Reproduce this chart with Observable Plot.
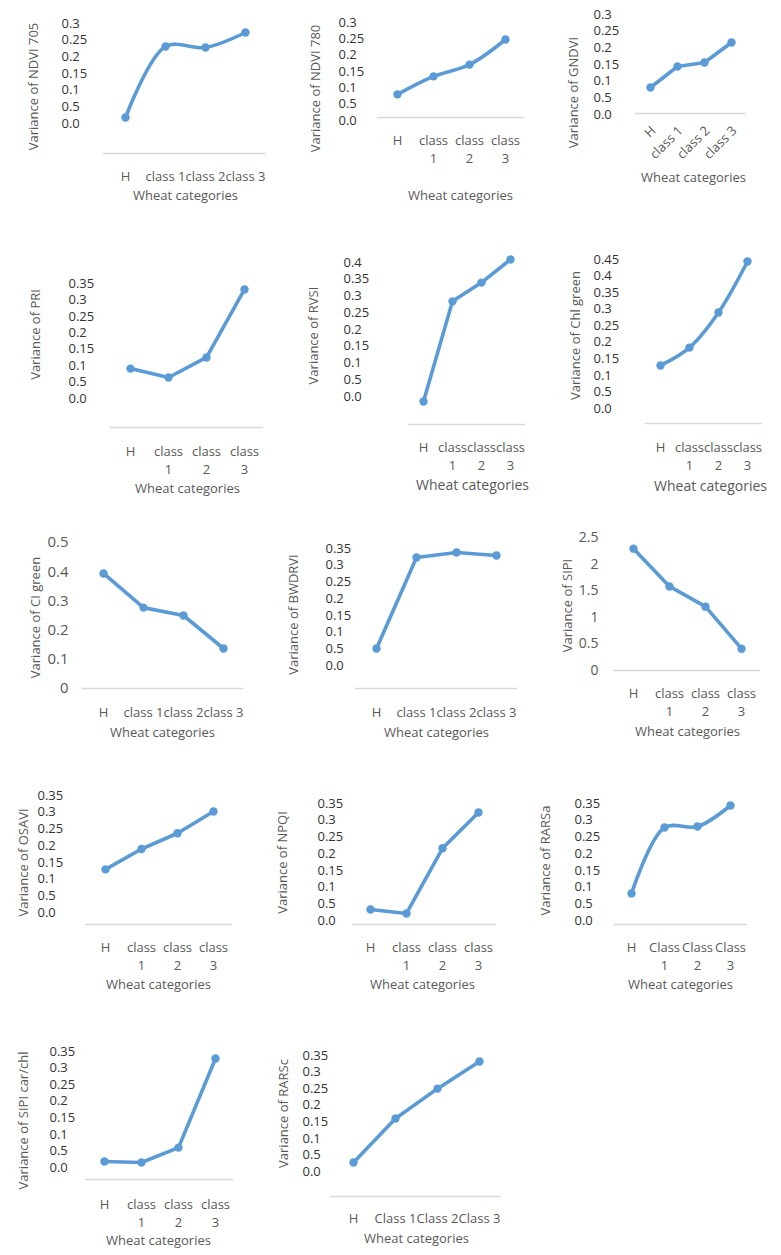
<!DOCTYPE html>
<html><head><meta charset="utf-8">
<script src="https://cdn.jsdelivr.net/npm/d3@7"></script>
<script src="https://cdn.jsdelivr.net/npm/@observablehq/plot@0.6"></script>
<style>
body{margin:0;background:#fff;}
#fig{position:relative;width:781px;height:1255px;background:#fff;overflow:hidden;font-family:"Open Sans",sans-serif;}
#fig svg{position:absolute;overflow:visible;}
</style></head><body><div id="fig"></div>
<script>
// Categories and tick labels
const categories = ["H", "class 1", "class 2", "class 3"];
const labelsInline = ["H", "class 1", "class 2", "class 3"];
const labelsWrapped = ["H", "class\n1", "class\n2", "class\n3"];
const labelsCapWrapped = ["H", "Class\n1", "Class\n2", "Class\n3"];
const labelsCapInline = ["H", "Class 1", "Class 2", "Class 3"];

// Series values (in the units of the printed tick labels)
const ndvi705 = [0.018, 0.231, 0.228, 0.273];
const ndvi780 = [0.080, 0.135, 0.171, 0.248];
const gndvi = [0.081, 0.144, 0.156, 0.216];
const pri = [0.091, 0.064, 0.125, 0.332];
const rvsi = [-0.015, 0.284, 0.340, 0.409];
const chlGreen = [0.130, 0.184, 0.290, 0.444];
const ciGreen = [0.394, 0.277, 0.250, 0.137];
const bwdrvi = [0.051, 0.323, 0.338, 0.329];
const sipi = [2.29, 1.58, 1.20, 0.41];
const osavi = [0.129, 0.190, 0.237, 0.302];
const npqi = [0.033, 0.021, 0.216, 0.323];
const rarsa = [0.081, 0.278, 0.281, 0.344];
const sipiCarChl = [0.018, 0.015, 0.060, 0.329];
const rarsc = [0.027, 0.160, 0.250, 0.332];

// Y tick values and their printed labels
const ticks030 = [0, 0.05, 0.1, 0.15, 0.2, 0.25, 0.3];
const tickLabels030 = ["0.0", "0.5", "0.1", "0.15", "0.2", "0.25", "0.3"];
const ticks035 = [0, 0.05, 0.1, 0.15, 0.2, 0.25, 0.3, 0.35];
const tickLabels035 = ["0.0", "0.5", "0.1", "0.15", "0.2", "0.25", "0.3", "0.35"];
const ticks040 = [0, 0.05, 0.1, 0.15, 0.2, 0.25, 0.3, 0.35, 0.4];
const tickLabels040 = ["0.0", "0.5", "0.1", "0.15", "0.2", "0.25", "0.3", "0.35", "0.4"];
const ticks045 = [0, 0.05, 0.1, 0.15, 0.2, 0.25, 0.3, 0.35, 0.4, 0.45];
const tickLabels045 = ["0.0", "0.5", "0.1", "0.15", "0.2", "0.25", "0.3", "0.35", "0.4", "0.45"];
const ticksCI = [0, 0.1, 0.2, 0.3, 0.4, 0.5];
const tickLabelsCI = ["0", "0.1", "0.2", "0.3", "0.4", "0.5"];
const ticksSIPI = [0, 0.5, 1, 1.5, 2, 2.5];
const tickLabelsSIPI = ["0", "0.5", "1", "1.5", "2", "2.5"];

const xTitle = "Wheat categories";

// Panel definitions with layout (page pixel positions)
const panels = [
  {title: "Variance of NDVI 705", values: ndvi705, labels: labelsInline, ticks: ticks030, tickLabels: tickLabels030, curve: "catmull-rom",
   L: {titleX: 33, titleY: 86, tickX: 61, tickAnchor: "start", y0: 123, yTop: 23, yBase: 153, xL: 103, xR: 266, labY: 172, xtX: 185, xtY: 195}},
  {title: "Variance of NDVI 780", values: ndvi780, labels: labelsWrapped, ticks: ticks030, tickLabels: tickLabels030, curve: "catmull-rom",
   L: {titleX: 315, titleY: 88, tickX: 338, tickAnchor: "start", y0: 120, yTop: 22, yBase: 117, xL: 377, xR: 524, labY: 136, xtX: 460, xtY: 195}},
  {title: "Variance of GNDVI", values: gndvi, labels: labelsInline, ticks: ticks030, tickLabels: tickLabels030, curve: "linear", rotateLabels: true,
   L: {titleX: 573, titleY: 92, tickX: 593, tickAnchor: "start", y0: 114, yTop: 14, yBase: 113, xL: 635, xR: 746, labY: 130, xtX: 693, xtY: 177}},
  {title: "Variance of PRI", values: pri, labels: labelsWrapped, ticks: ticks035, tickLabels: tickLabels035, curve: "linear",
   L: {titleX: 35, titleY: 334, tickX: 68, tickAnchor: "start", y0: 398, yTop: 283, yBase: 427, xL: 110, xR: 263, labY: 447, xtX: 187, xtY: 488}},
  {title: "Variance of RVSI", values: rvsi, labels: labelsWrapped, ticks: ticks040, tickLabels: tickLabels040, curve: "linear", xtFs: 14,
   L: {titleX: 313, titleY: 335, tickX: 343, tickAnchor: "start", y0: 396, yTop: 262, yBase: 424, xL: 408, xR: 525, labY: 443, xtX: 472, xtY: 485}},
  {title: "Variance of Chl green", values: chlGreen, labels: labelsWrapped, ticks: ticks045, tickLabels: tickLabels045, curve: "catmull-rom", xtFs: 14,
   L: {titleX: 575, titleY: 335, tickX: 593, tickAnchor: "start", y0: 408, yTop: 259, yBase: 423, xL: 645, xR: 762, labY: 443, xtX: 710, xtY: 486}},
  {title: "Variance of CI green", values: ciGreen, labels: labelsInline, ticks: ticksCI, tickLabels: tickLabelsCI, curve: "linear", tickFs: 15, tickFill: "#595959",
   L: {titleX: 35, titleY: 617, tickX: 68, tickAnchor: "end", y0: 688, yTop: 542, yBase: 688, xL: 82, xR: 243, labY: 708, xtX: 162, xtY: 732}},
  {title: "Variance of BWDRVI", values: bwdrvi, labels: labelsInline, ticks: ticks035, tickLabels: tickLabels035, curve: "linear",
   L: {titleX: 293, titleY: 614, tickX: 325, tickAnchor: "start", y0: 665, yTop: 548, yBase: 688, xL: 355, xR: 517, labY: 708, xtX: 436, xtY: 732}},
  {title: "Variance of SIPI", values: sipi, labels: labelsWrapped, ticks: ticksSIPI, tickLabels: tickLabelsSIPI, curve: "linear", tickFs: 14, tickFill: "#595959",
   L: {titleX: 567, titleY: 605, tickX: 598, tickAnchor: "end", y0: 670, yTop: 537, yBase: 670, xL: 613, xR: 760, labY: 689, xtX: 687, xtY: 731}},
  {title: "Variance of OSAVI", values: osavi, labels: labelsWrapped, ticks: ticks035, tickLabels: tickLabels035, curve: "linear",
   L: {titleX: 23, titleY: 862, tickX: 37, tickAnchor: "start", y0: 912, yTop: 795, yBase: 924, xL: 85, xR: 232, labY: 943, xtX: 158, xtY: 984}},
  {title: "Variance of NPQI", values: npqi, labels: labelsWrapped, ticks: ticks035, tickLabels: tickLabels035, curve: "linear",
   L: {titleX: 282, titleY: 862, tickX: 317, tickAnchor: "start", y0: 920, yTop: 803, yBase: 924, xL: 352, xR: 496, labY: 943, xtX: 422, xtY: 984}},
  {title: "Variance of RARSa", values: rarsa, labels: labelsCapWrapped, ticks: ticks035, tickLabels: tickLabels035, curve: "catmull-rom",
   L: {titleX: 545, titleY: 860, tickX: 574, tickAnchor: "start", y0: 920, yTop: 803, yBase: 924, xL: 614, xR: 747, labY: 943, xtX: 680, xtY: 984}},
  {title: "Variance of SIPI car/chl", values: sipiCarChl, labels: labelsWrapped, ticks: ticks035, tickLabels: tickLabels035, curve: "linear",
   L: {titleX: 23, titleY: 1120, tickX: 49, tickAnchor: "start", y0: 1167, yTop: 1051, yBase: 1179, xL: 85, xR: 233, labY: 1200, xtX: 158, xtY: 1240}},
  {title: "Variance of RARSc", values: rarsc, labels: labelsCapInline, ticks: ticks035, tickLabels: tickLabels035, curve: "linear",
   L: {titleX: 283, titleY: 1113, tickX: 302, tickAnchor: "start", y0: 1171, yTop: 1055, yBase: 1196, xL: 330, xR: 501, labY: 1214, xtX: 416, xtY: 1238}}
];

const blue = "#5B9BD5";
const gray = "#595959";
const fig = document.getElementById("fig");

for (const p of panels) {
  const L = p.L;
  const tmax = p.ticks[p.ticks.length - 1];
  const ox = Math.max(0, Math.min(L.titleX, L.tickX) - 14);
  const oy = Math.max(0, Math.min(L.yTop, L.titleY - 75) - 14);
  const right = Math.min(781, Math.max(L.xR, L.xtX + 62) + 12);
  const bottom = Math.min(1255, L.xtY + 14);
  const w = right - ox, h = bottom - oy;
  const rows = categories.map((c, i) => ({cat: c, v: p.values[i], label: p.labels[i]}));
  const tickRows = p.ticks.map((t, i) => ({t, s: p.tickLabels[i]}));
  const baseVal = tmax * (L.yBase - L.y0) / (L.yTop - L.y0);
  const fs = 13;
  const labMark = p.rotateLabels
    ? Plot.text(rows, {x: "cat", text: "label", frameAnchor: "bottom", rotate: -45, textAnchor: "end", lineAnchor: "middle", dx: 3, dy: 15, fill: gray, fontSize: fs})
    : Plot.text(rows, {x: "cat", text: "label", frameAnchor: "bottom", lineAnchor: "top", lineHeight: 1.4, dy: L.labY - 0.36 * fs - L.yBase, fill: gray, fontSize: fs});
  const chart = Plot.plot({
    width: w, height: h,
    marginLeft: L.xL - ox, marginRight: right - L.xR, marginTop: 10, marginBottom: bottom - L.yBase,
    style: {background: "transparent", fontFamily: '"Open Sans", sans-serif', overflow: "visible"},
    x: {type: "point", domain: categories, padding: 0.5, axis: null},
    y: {domain: [0, tmax], range: [L.y0 - oy, L.yTop - oy], axis: null},
    marks: [
      Plot.ruleY([baseVal], {stroke: "#d9d9d9", strokeWidth: 1.5}),
      Plot.text(tickRows, {y: "t", text: "s", frameAnchor: "left", dx: L.tickX - L.xL, textAnchor: L.tickAnchor, fill: p.tickFill || "#333333", fontSize: p.tickFs || 13}),
      labMark,
      Plot.text([p.title], {frameAnchor: "bottom-left", dx: L.titleX - L.xL, dy: L.titleY - L.yBase, rotate: -90, textAnchor: "middle", lineAnchor: "middle", fill: gray, fontSize: 13}),
      Plot.text([xTitle], {frameAnchor: "bottom-left", dx: L.xtX - L.xL, dy: L.xtY - L.yBase, textAnchor: "middle", lineAnchor: "middle", fill: gray, fontSize: p.xtFs || 13}),
      Plot.line(rows, {x: "cat", y: "v", stroke: blue, strokeWidth: 3.6, curve: p.curve, strokeLinejoin: "round", strokeLinecap: "round"}),
      Plot.dot(rows, {x: "cat", y: "v", r: 4.2, fill: blue, stroke: "none"})
    ]
  });
  chart.style.left = ox + "px";
  chart.style.top = oy + "px";
  fig.appendChild(chart);
}
</script></body></html>
